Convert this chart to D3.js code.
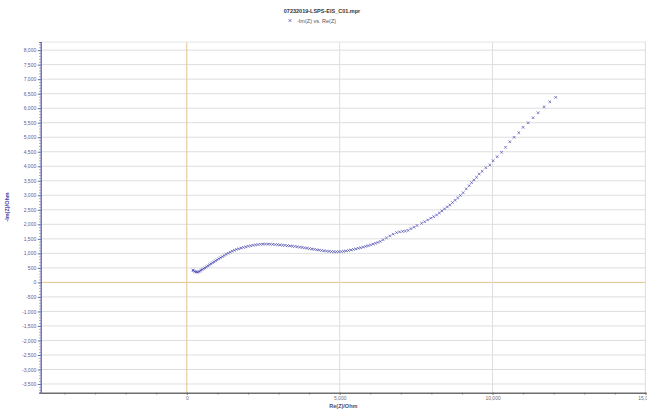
<!DOCTYPE html>
<html>
<head>
<meta charset="utf-8">
<script src="https://cdn.jsdelivr.net/npm/d3@7"></script>
<style>
  body { margin: 0; background: #fff; }
  svg { display: block; }
  text { font-family: "Liberation Sans", Arial, sans-serif; }
</style>
</head>
<body>
<div id="chart"></div>
<script>
// chart texts
var chartTitle = "07232019-LSPS-EIS_C01.mpr";
var seriesName = "-Im(Z) vs. Re(Z)";
var xTitle = "Re(Z)/Ohm";
var yTitle = "-Im(Z)/Ohm";

// Nyquist data (Ohm)
var reZ = [200, 216, 262, 300, 340, 379, 420, 460, 500, 545, 590, 640, 690, 740, 790, 840, 890, 940, 990,
  1045, 1100, 1160, 1220, 1285, 1350, 1415, 1485, 1555, 1625, 1700, 1775, 1850, 1930, 2010, 2090, 2170,
  2250, 2330, 2410, 2490, 2570, 2650, 2730, 2810, 2890, 2970, 3050, 3130, 3210, 3290, 3370, 3450, 3530,
  3610, 3690, 3770, 3850, 3930, 4010, 4090, 4170, 4250, 4330, 4410, 4490, 4570, 4650, 4730, 4810, 4890,
  4970, 5050, 5130, 5210, 5290, 5370, 5450, 5530, 5610, 5690, 5770, 5850, 5930, 6010, 6090, 6170, 6250,
  6330, 6420, 6530, 6640, 6750, 6863, 6960, 7060, 7150, 7242, 7330, 7430, 7530, 7680, 7780, 7880, 7980,
  8075, 8170, 8260, 8345, 8430, 8520, 8605, 8690, 8775, 8860, 8950, 9039, 9140, 9236, 9314, 9389, 9477,
  9562, 9660, 9781, 9912, 10020, 10151, 10295, 10425, 10566, 10706, 10860, 11000, 11164, 11327, 11490,
  11686, 11873, 12069];
var negImZ = [425, 400, 375, 362, 352, 362, 385, 415, 440, 470, 500, 535, 570, 605, 640, 675, 710, 745, 778,
  815, 850, 888, 925, 965, 1000, 1040, 1075, 1105, 1135, 1160, 1185, 1205, 1225, 1245, 1262, 1278,
  1292, 1303, 1312, 1318, 1320, 1318, 1315, 1310, 1303, 1297, 1290, 1283, 1275, 1266, 1257, 1248, 1238,
  1228, 1216, 1203, 1190, 1177, 1163, 1150, 1137, 1124, 1111, 1099, 1088, 1078, 1069, 1062, 1058, 1056,
  1058, 1063, 1072, 1085, 1100, 1117, 1135, 1154, 1174, 1195, 1217, 1240, 1265, 1291, 1318, 1346, 1376,
  1410, 1470, 1535, 1600, 1660, 1714, 1740, 1755, 1770, 1790, 1850, 1900, 1960, 2037, 2090, 2150, 2210,
  2265, 2323, 2390, 2460, 2530, 2600, 2667, 2750, 2830, 2910, 2995, 3090, 3220, 3331, 3434, 3527, 3620,
  3733, 3826, 3950, 4043, 4191, 4329, 4480, 4652, 4845, 4996, 5155, 5340, 5499, 5671, 5843,
  6049, 6221, 6373];

// axis ticks
var xLabelTicks = [0, 5000, 10000, 15000];
var yLabelTicks = [-3500, -3000, -2500, -2000, -1500, -1000, -500, 0, 500, 1000, 1500, 2000, 2500,
  3000, 3500, 4000, 4500, 5000, 5500, 6000, 6500, 7000, 7500, 8000];
var xMinorTicks = [-4000, -3000, -2000, -1000, 0, 1000, 2000, 3000, 4000, 5000, 6000, 7000, 8000,
  9000, 10000, 11000, 12000, 13000, 14000, 15000];

var W = 647, H = 410;
var plot = {left: 40.7, right: 646, top: 42, bottom: 392.7};

var svg = d3.select("#chart").append("svg")
  .attr("width", W)
  .attr("height", H);

var x = d3.scaleLinear().domain([-4780, 15020]).range([plot.left, plot.right]);
var y = d3.scaleLinear().domain([-3800, 8280]).range([plot.bottom, plot.top]);

var fmt = function(d) { return d3.format(",")(d).replace("\u2212", "-"); };

// grid
var grid = svg.append("g");
grid.selectAll(".hg").data(yLabelTicks).enter().append("line")
  .attr("x1", plot.left).attr("x2", plot.right)
  .attr("y1", function(d) { return y(d); }).attr("y2", function(d) { return y(d); })
  .attr("stroke", function(d) { return d === 0 ? "#e3c48c" : "#dedede"; })
  .attr("stroke-width", 1);
grid.selectAll(".vg").data(xLabelTicks).enter().append("line")
  .attr("y1", plot.top).attr("y2", plot.bottom)
  .attr("x1", function(d) { return x(d); }).attr("x2", function(d) { return x(d); })
  .attr("stroke", function(d) { return d === 0 ? "#e3c48c" : "#dedede"; })
  .attr("stroke-width", 1);
grid.append("line")
  .attr("x1", plot.left).attr("x2", plot.right)
  .attr("y1", plot.top).attr("y2", plot.top)
  .attr("stroke", "#e4e4e4");

// y axis: dense minor ticks + labelled majors
var yMinor = [];
for (var v = -3800; v <= 8200; v += 100) yMinor.push(v);
var yAxisMinor = svg.append("g")
  .attr("transform", "translate(" + plot.left + ",0)")
  .call(d3.axisLeft(y).tickValues(yMinor).tickSize(1.5).tickFormat(""));
yAxisMinor.select(".domain").attr("stroke", "#5656a6").attr("stroke-width", 1.2);
yAxisMinor.selectAll(".tick line").attr("stroke", "#5656a6").attr("stroke-width", 0.6);

var yAxis = svg.append("g")
  .attr("transform", "translate(" + plot.left + ",0)")
  .call(d3.axisLeft(y).tickValues(yLabelTicks).tickSize(3).tickPadding(1.5).tickFormat(fmt));
yAxis.select(".domain").remove();
yAxis.selectAll(".tick line").attr("stroke", "#5656a6").attr("stroke-width", 0.8);
yAxis.selectAll(".tick text").attr("fill", "#5a5a9c").style("font-size", "5px");

// x axis
var xAxisMinor = svg.append("g")
  .attr("transform", "translate(0," + plot.bottom + ")")
  .call(d3.axisBottom(x).tickValues(xMinorTicks).tickSize(2).tickSizeOuter(0).tickFormat(""));
xAxisMinor.select(".domain").attr("stroke", "#6e6e6e").attr("stroke-width", 1.6);
xAxisMinor.selectAll(".tick line").attr("stroke", "#6e6e6e").attr("stroke-width", 0.7);

var xAxis = svg.append("g")
  .attr("transform", "translate(0," + plot.bottom + ")")
  .call(d3.axisBottom(x).tickValues(xLabelTicks).tickSize(2).tickPadding(2).tickFormat(fmt));
xAxis.select(".domain").remove();
xAxis.selectAll(".tick line").attr("stroke", "#6e6e6e");
xAxis.selectAll(".tick text").attr("fill", "#707070").style("font-size", "5px");

// axis titles
svg.append("text")
  .attr("x", (plot.left + plot.right) / 2).attr("y", 407.5)
  .attr("text-anchor", "middle")
  .attr("fill", "#4a4a6a")
  .style("font-size", "5.5px").style("font-weight", "bold")
  .text(xTitle);
svg.append("text")
  .attr("transform", "translate(9,207) rotate(-90)")
  .attr("text-anchor", "middle")
  .attr("fill", "#3a3aa0")
  .style("font-size", "5.5px").style("font-weight", "bold")
  .text(yTitle);

// title + legend
svg.append("text")
  .attr("x", 322).attr("y", 13)
  .attr("text-anchor", "middle")
  .attr("fill", "#333")
  .style("font-size", "5.5px").style("font-weight", "bold")
  .text(chartTitle);
var cross = "M-1.3,-1.3L1.3,1.3M-1.3,1.3L1.3,-1.3";
svg.append("path")
  .attr("d", cross)
  .attr("transform", "translate(290,20.5)")
  .attr("stroke", "#4a4aa8").attr("stroke-width", 0.8).attr("fill", "none");
svg.append("text")
  .attr("x", 297).attr("y", 22.5)
  .attr("fill", "#555")
  .style("font-size", "5.5px")
  .text(seriesName);

// data markers
svg.append("g").selectAll("path")
  .data(reZ.map(function(r, i) { return [r, negImZ[i]]; }))
  .enter().append("path")
  .attr("d", cross)
  .attr("transform", function(d) { return "translate(" + x(d[0]) + "," + y(d[1]) + ")"; })
  .attr("stroke", "#3a3aaa")
  .attr("stroke-opacity", 0.8)
  .attr("stroke-width", 0.8)
  .attr("fill", "none");
</script>
</body>
</html>
